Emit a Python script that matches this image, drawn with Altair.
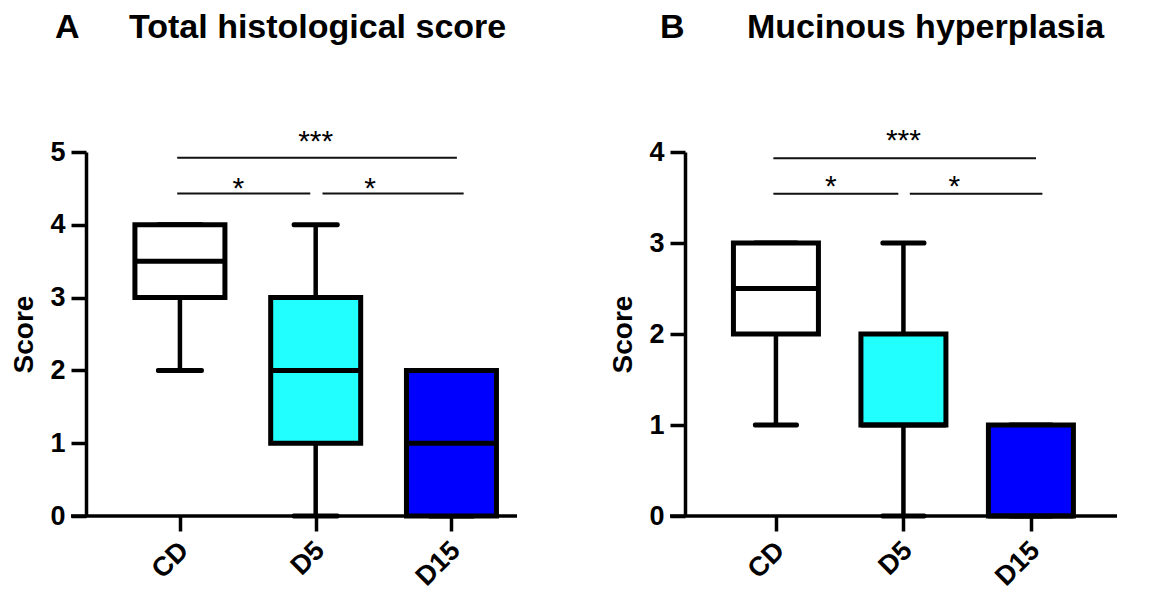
import json
import altair as alt
import pandas as pd

# ---------------- data ----------------
groups = ["CD", "D5", "D15"]
fills = ["#FFFFFF", "#22FFFF", "#0000FF"]

# Panel A: Total histological score (min, Q1, median, Q3, max)
A_min = [2, 0, 0]
A_q1 = [3, 1, 0]
A_med = [3.5, 2, 1]
A_q3 = [4, 3, 2]
A_max = [4, 4, 2]

# Panel B: Mucinous hyperplasia
B_min = [1, 0, 0]
B_q1 = [2, 1, 0]
B_med = [2.5, 1, 0]
B_q3 = [3, 2, 1]
B_max = [3, 3, 1]

# significance brackets (positions along the category axis, 1 = CD, 3 = D15)
sig_from = [0.98, 0.98, 2.05]
sig_to = [3.04, 1.96, 3.09]
sig_label = ["***", "*", "*"]
sig_label_x = [2.0, 1.43, 2.40]
A_sig_y = [4.92, 4.43, 4.43]
A_lab_y = [5.28, 4.63, 4.63]
B_sig_y = [3.93, 3.54, 3.54]
B_lab_y = [4.23, 3.72, 3.72]

FONT = "Liberation Sans"
H = 364


def panel(mins, q1s, meds, q3s, maxs, ymax, xdom, sig_y, lab_y, letter, title,
          w, bw, cw, letter_x, title_x):
    df = pd.DataFrame({
        "pos": [1, 2, 3], "fill": fills, "lo": mins, "q1": q1s,
        "med": meds, "q3": q3s, "hi": maxs,
    })
    sig = pd.DataFrame({"x1": sig_from, "x2": sig_to, "y": sig_y})
    lab = pd.DataFrame({"x": sig_label_x, "y": lab_y, "t": sig_label})
    one = pd.DataFrame({"a": [0]})

    xs = alt.Scale(domain=xdom, nice=False, zero=False)
    ys = alt.Scale(domain=[0, ymax], nice=False, zero=True)
    xaxis = alt.Axis(
        values=[1, 2, 3], labelExpr=f"{json.dumps(groups)}[datum.value - 1]",
        domain=False, grid=False, ticks=True, tickSize=15, tickWidth=3.5,
        tickColor="black", labelAngle=315, labelAlign="right",
        labelBaseline="middle", labelPadding=15, labelOffset=4, labelFont=FONT,
        labelFontSize=27, labelFontWeight="bold", labelColor="black",
        title=None,
    )
    yaxis = alt.Axis(
        values=list(range(ymax + 1)), format="d", domain=True, domainWidth=3.5,
        domainColor="black", grid=False, tickSize=15, tickWidth=3.5,
        tickColor="black", labelFont=FONT, labelFontSize=27,
        labelFontWeight="bold", labelColor="black", labelPadding=6,
        title="Score", titleFont=FONT, titleFontSize=28,
        titleFontWeight="bold", titleColor="black", titlePadding=11,
    )
    X = alt.X("pos:Q", scale=xs, axis=xaxis)
    base = alt.Chart(df)

    whisk_lo = base.mark_rule(color="black", strokeWidth=4.5).encode(
        x=X, y=alt.Y("lo:Q", scale=ys, axis=yaxis), y2="q1:Q")
    whisk_hi = base.mark_rule(color="black", strokeWidth=4.5).encode(
        x=X, y=alt.Y("q3:Q", scale=ys), y2="hi:Q")
    cap_lo = base.mark_tick(orient="horizontal", size=cw, thickness=5,
                            color="black", opacity=1, cornerRadius=2).encode(
        x=X, y=alt.Y("lo:Q", scale=ys))
    cap_hi = base.mark_tick(orient="horizontal", size=cw, thickness=5,
                            color="black", opacity=1, cornerRadius=2).encode(
        x=X, y=alt.Y("hi:Q", scale=ys))
    box = base.mark_bar(size=bw, stroke="black", strokeWidth=5, opacity=1).encode(
        x=X, y=alt.Y("q1:Q", scale=ys), y2="q3:Q",
        fill=alt.Fill("fill:N", scale=None))
    med = base.mark_tick(orient="horizontal", size=bw, thickness=5,
                         color="black", opacity=1).encode(
        x=X, y=alt.Y("med:Q", scale=ys))

    xline = alt.Chart(one).mark_rule(color="black", strokeWidth=3.5).encode(
        x=alt.value(-15), x2=alt.value(w), y=alt.value(H))

    sig_lines = alt.Chart(sig).mark_rule(color="#111111", strokeWidth=2).encode(
        x=alt.X("x1:Q", scale=xs), x2="x2:Q", y=alt.Y("y:Q", scale=ys))
    sig_text = alt.Chart(lab).mark_text(font=FONT, fontSize=30, color="black",
                                        baseline="middle", dy=10).encode(
        x=alt.X("x:Q", scale=xs), y=alt.Y("y:Q", scale=ys), text="t:N")

    letter_t = alt.Chart(one).mark_text(
        font=FONT, fontSize=34, fontWeight="bold", color="black",
        align="left", baseline="alphabetic", text=letter).encode(
        x=alt.value(letter_x), y=alt.value(-114.5))
    title_t = alt.Chart(one).mark_text(
        font=FONT, fontSize=34, fontWeight="bold", color="black",
        align="left", baseline="alphabetic", text=title).encode(
        x=alt.value(title_x), y=alt.value(-114.5))

    return alt.layer(
        whisk_lo, whisk_hi, cap_lo, cap_hi, box, med, xline,
        sig_lines, sig_text, letter_t, title_t,
    ).properties(width=w, height=H)


left = panel(A_min, A_q1, A_med, A_q3, A_max, 5, [0.345, 3.446],
             A_sig_y, A_lab_y, "A", "Total histological score", 431, 90, 48,
             -31, 43)
right = panel(B_min, B_q1, B_med, B_q3, B_max, 4, [0.326, 3.636],
              B_sig_y, B_lab_y, "B", "Mucinous hyperplasia", 432, 85, 46,
              -25, 62)

chart = alt.hconcat(left, right, spacing=168, bounds="flush").configure_view(
    stroke=None
).properties(padding={"left": 10, "top": 10, "right": 5, "bottom": 5}, background="white")

chart.save("out.html", embed_options={"renderer": "svg", "actions": False})
